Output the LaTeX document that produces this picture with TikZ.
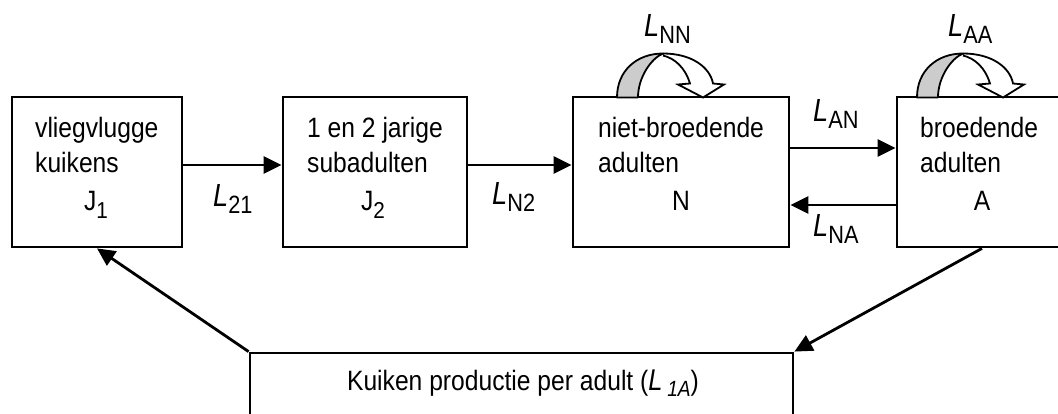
\documentclass[tikz,border=0pt]{standalone}
\usepackage{graphicx}
\usepackage{fontspec}
\setmainfont{Liberation Sans}
\usetikzlibrary{arrows.meta}
\newcommand\cz[1]{\scalebox{0.88}[1]{#1}}
\newcommand\mysub[1]{\raisebox{-8pt}{\scalebox{0.9}[1]{\fontsize{23}{23}\selectfont #1}}}
\newcommand\Lsym[1]{\scalebox{0.85}[1]{\fontsize{32}{32}\selectfont\itshape L}\raisebox{-7pt}{\scalebox{0.87}[1]{\fontsize{25}{25}\selectfont #1}}}
\newcommand\selfloop[1]{%
\begin{scope}[shift={(#1,97.5)}]
\filldraw[fill=gray!40, line width=1.8pt, line join=round]
  (0,0) .. controls (0,-27) and (20,-44) .. (46,-44)
  .. controls (34,-39) and (21,-20) .. (21,0) -- cycle;
\filldraw[fill=white, line width=1.8pt, line join=miter]
  (46,-44) .. controls (75,-44) and (93,-30) .. (96,-14)
  -- (107,-13) -- (86,0) -- (61,-13) -- (73,-14)
  .. controls (68,-30) and (58,-39) .. (46,-42);
\end{scope}}
\begin{document}
\begin{tikzpicture}[x=1pt,y=-1pt,
  box/.style={draw, line width=2.8pt, minimum width=#1, minimum height=150pt, inner sep=0pt},
  box/.default=170pt,
  txt/.style={anchor=base west, inner sep=0pt, font=\fontsize{28}{35}\selectfont},
  lbl/.style={anchor=base, inner sep=0pt, font=\fontsize{28}{35}\selectfont},
  llab/.style={anchor=base west, inner sep=0pt},
  arr/.style={-{Triangle[length=18pt,width=17pt]}, line width=2.8pt}]
\useasboundingbox (0,0) rectangle (1058,414);
\clip (0,0) rectangle (1058,414);
% boxes
\node[box=170pt] (J1) at (97,172) {};
\node[box=184pt] (J2) at (375,172) {};
\node[box=216pt] (N) at (681,172) {};
\node[box=170pt] (A) at (982,172) {};
\node[box=543pt, minimum height=88pt] (K) at (521.5,397) {};
% box texts
\node[txt] (j1a) at (35,138) {\cz{vliegvlugge}};
\node[txt] (j1b) at (35,173) {\cz{kuikens}};
\node[lbl] (j1c) at (96,211) {\cz{J}\mysub{1}};
\node[txt] (j2a) at (307,138) {\cz{1 en 2 jarige}};
\node[txt] (j2b) at (307,173) {\cz{subadulten}};
\node[lbl] (j2c) at (373,211) {\cz{J}\mysub{2}};
\node[txt] (na) at (598,138) {\cz{niet-broedende}};
\node[txt] (nb) at (598,173) {\cz{adulten}};
\node[lbl] (nc) at (681,211) {\cz{N}};
\node[txt] (aa) at (920,138) {\cz{broedende}};
\node[txt] (ab) at (920,173) {\cz{adulten}};
\node[lbl] (ac) at (982,211) {\cz{A}};
\node[lbl] (kt) at (523,390) {\cz{Kuiken productie per adult (}\scalebox{0.85}[1]{\fontsize{30}{30}\selectfont\itshape L}\,\raisebox{-6pt}{\scalebox{0.87}[1]{\fontsize{22}{22}\selectfont\itshape 1A}}\cz{)}};
% connectors
\draw[arr] ([yshift=7pt]J1.east) -- ([yshift=7pt]J2.west);
\draw[arr] ([yshift=7pt]J2.east) -- ([yshift=7pt]N.west);
\draw[arr] ([yshift=24pt]N.east) -- ([yshift=24pt]A.west);
\draw[arr] ([yshift=-33pt]A.west) -- ([yshift=-33pt]N.east);
\draw[arr] (A.south) -- (K.north east);
\draw[arr] (K.north west) -- (J1.south);
% self loops
\selfloop{617}
\selfloop{917}
% labels
\node[llab] (l21) at (213,207) {\Lsym{21}};
\node[llab] (ln2) at (492,205) {\Lsym{N2}};
\node[llab] (lan) at (813,122) {\Lsym{AN}};
\node[llab] (lna) at (813,237) {\Lsym{NA}};
\node[llab] (lnn) at (644,37) {\Lsym{NN}};
\node[llab] (laa) at (948,37) {\Lsym{AA}};
\end{tikzpicture}
\end{document}
